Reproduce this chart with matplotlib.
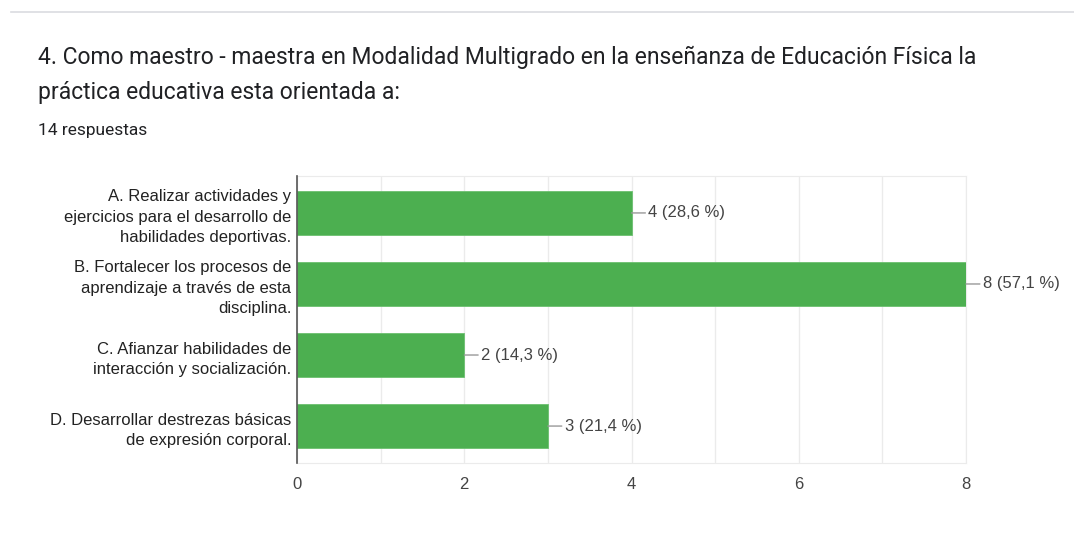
import matplotlib
matplotlib.use("Agg")
import matplotlib.pyplot as plt
from matplotlib.lines import Line2D

# ── data ──────────────────────────────────────────────────────────────────────

categories = [
    "A. Realizar actividades y\nejercicios para el desarrollo de\nhabilidades deportivas.",
    "B. Fortalecer los procesos de\naprendizaje a través de esta\ndisciplina.",
    "C. Afianzar habilidades de\ninteracción y socialización.",
    "D. Desarrollar destrezas básicas\nde expresión corporal.",
]
counts = [4, 8, 2, 3]
total_responses = 14
x_ticks = [0, 2, 4, 6, 8]

title_lines = [
    "4. Como maestro - maestra en Modalidad Multigrado en la enseñanza de Educación Física la",
    "práctica educativa esta orientada a:",
]
subtitle = f"{total_responses} respuestas"

# ── visual settings ───────────────────────────────────────────────────────────

bar_color = "#4caf50"
text_color = "#444444"
grid_color = "#ebebeb"

plt.rcParams.update({
    "font.family": ["Liberation Sans", "DejaVu Sans"],
    "font.size": 12,
})

fig = plt.figure(figsize=(10.74, 5.46), dpi=100)
fig.patch.set_facecolor("white")

# card top border
fig.add_artist(Line2D([0.01, 1.0], [1 - 12 / 546, 1 - 12 / 546], color="#dadce0", lw=1.2))

for i, line in enumerate(title_lines):
    fig.text(38 / 1074, 1 - (57 + 35 * i) / 546, line, fontsize=16.5, color="#202124",
             family=["Roboto", "DejaVu Sans"], va="center", ha="left")
fig.text(38 / 1074, 1 - 130 / 546, subtitle, fontsize=12.5, color="#202124",
         family=["Roboto", "DejaVu Sans"], va="center", ha="left")

ax = fig.add_axes([297 / 1074, 1 - 463 / 546, (966 - 297) / 1074, (463 - 176) / 546])

y_pos = list(range(len(categories)))
ax.barh(y_pos, counts, height=0.63, color=bar_color, edgecolor="#6cc070",
        linewidth=0.6, zorder=3)

ax.set_xlim(0, 8)
ax.set_ylim(len(categories) - 0.48, -0.52)

ax.set_xticks(x_ticks)
ax.set_xticks(range(0, 9), minor=True)
ax.grid(axis="x", which="both", color=grid_color, lw=1, zorder=0)
ax.tick_params(axis="x", which="both", length=0, pad=10, labelcolor=text_color, labelsize=12)

ax.set_yticks(y_pos)
ax.set_yticklabels(categories, color="#222222", fontsize=12, linespacing=1.45)
ax.tick_params(axis="y", length=0, pad=4)

for side in ["top", "right", "bottom"]:
    ax.spines[side].set_color(grid_color)
ax.spines["left"].set_color("#555555")
ax.spines["left"].set_linewidth(1.2)
ax.spines["left"].set_zorder(4)

# value labels with short leader line
for y, c in zip(y_pos, counts):
    pct = f"{c / total_responses * 100:.1f}".replace(".", ",")
    ax.annotate(
        f"{c} ({pct} %)",
        xy=(c, y), xytext=(12, 0), textcoords="offset points",
        va="center", ha="left", fontsize=12, color=text_color,
        annotation_clip=False,
        arrowprops=dict(arrowstyle="-", color="#999999", lw=1,
                        shrinkA=0, shrinkB=0),
    )

fig.savefig("out.png", dpi=100, facecolor="white")
